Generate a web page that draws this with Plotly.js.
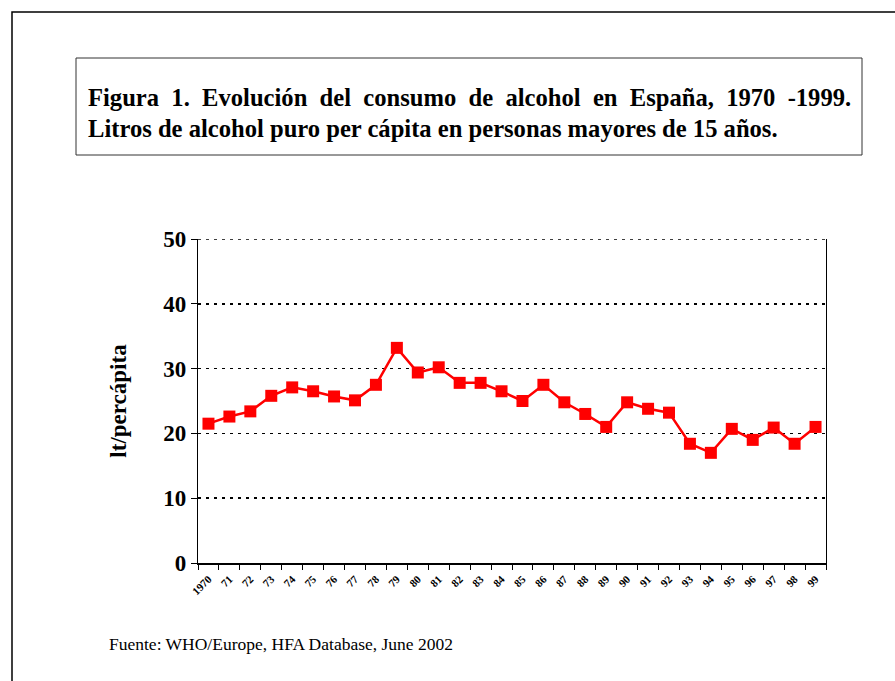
<!DOCTYPE html>
<html>
<head>
<meta charset="utf-8">
<script src="https://cdn.plot.ly/plotly-3.0.1.min.js"></script>
<style>html,body{margin:0;padding:0;background:#fff;}#chart{width:895px;height:681px;}</style>
</head>
<body>
<div id="chart"></div>
<script>
const years = ["1970","71","72","73","74","75","76","77","78","79","80","81","82","83","84","85","86","87","88","89","90","91","92","93","94","95","96","97","98","99"];
const litres = [21.5,22.6,23.4,25.8,27.1,26.5,25.7,25.1,27.5,33.2,29.4,30.2,27.8,27.8,26.5,25.0,27.5,24.8,23.0,21.0,24.8,23.8,23.2,18.4,17.0,20.7,19.0,20.9,18.4,21.0];
const yTicks = [0,10,20,30,40,50];
const titleLine1 = "Figura 1. Evolución del consumo de alcohol en España, 1970 -1999.";
const titleLine2 = "Litros de alcohol puro per cápita en personas mayores de 15 años.";
const yTitle = "lt/percápita";
const source = "Fuente: WHO/Europe, HFA Database, June 2002";

const L = 198, R = 826, T = 239, B = 563;
const fx = px => (px - L) / (R - L);
const fy = py => (B - py) / (B - T);
const serif = "Liberation Serif, Times New Roman, serif";
// justified first line: widen the word gaps
const justified = titleLine1.split(" ").join("\u00A0 ");
const yMax = yTicks[yTicks.length - 1];

const trace = {
  x: years, y: litres, type: "scatter", mode: "lines+markers",
  line: {color: "#ff0000", width: 2.5},
  marker: {symbol: "square", size: 12, color: "#ff0000"},
  hoverinfo: "skip"
};

const layout = {
  width: 895, height: 681,
  margin: {l: L, r: 895 - R, t: T, b: 681 - B, pad: 0},
  paper_bgcolor: "#fff", plot_bgcolor: "#fff",
  showlegend: false,
  xaxis: {
    type: "category", range: [-0.5, years.length - 0.5],
    showline: true, linecolor: "#000", linewidth: 1.5,
    ticks: "outside", ticklen: 5, tickcolor: "#000", tickwidth: 1, tickson: "boundaries",
    tickangle: -45, showgrid: false, zeroline: false, ticklabelstandoff: 4,
    tickfont: {family: serif, size: 11, color: "#000", weight: "bold"}
  },
  yaxis: {
    range: [0, yMax], tickvals: yTicks, ticktext: yTicks.map(String),
    showline: true, mirror: true, linecolor: "#000", linewidth: 1.2,
    ticks: "outside", ticklen: 6, tickcolor: "#000",
    showgrid: true, gridcolor: "#000", gridwidth: 1.5, griddash: "3px,5px",
    zeroline: false,
    tickfont: {family: serif, size: 23, color: "#000", weight: "bold"},
    title: {text: yTitle, standoff: 30, font: {family: serif, size: 23, color: "#000", weight: "bold"}}
  },
  shapes: [
    {type: "line", xref: "paper", yref: "y", x0: 0, x1: 1, y0: yMax, y1: yMax,
     line: {color: "#000", width: 1.5, dash: "3px,5px"}},
    {type: "path", xref: "paper", yref: "paper",
     path: `M ${fx(12)} ${fy(700)} L ${fx(12)} ${fy(12)} L ${fx(900)} ${fy(12)}`,
     line: {color: "#000", width: 1.5}},
    {type: "rect", xref: "paper", yref: "paper",
     x0: fx(76), x1: fx(862), y0: fy(155), y1: fy(58),
     line: {color: "#333", width: 1}}
  ],
  annotations: [
    {xref: "paper", yref: "paper", x: fx(86), y: fy(97), xanchor: "left", yanchor: "middle",
     text: justified, showarrow: false, font: {family: serif, size: 24.6, color: "#000", weight: "bold"}},
    {xref: "paper", yref: "paper", x: fx(86), y: fy(128), xanchor: "left", yanchor: "middle",
     text: titleLine2, showarrow: false, font: {family: serif, size: 24.6, color: "#000", weight: "bold"}},
    {xref: "paper", yref: "paper", x: fx(107), y: fy(644), xanchor: "left", yanchor: "middle",
     text: source, showarrow: false, font: {family: serif, size: 17.5, color: "#000"}}
  ]
};

Plotly.newPlot("chart", [trace], layout, {displayModeBar: false, staticPlot: true});
</script>
</body>
</html>
